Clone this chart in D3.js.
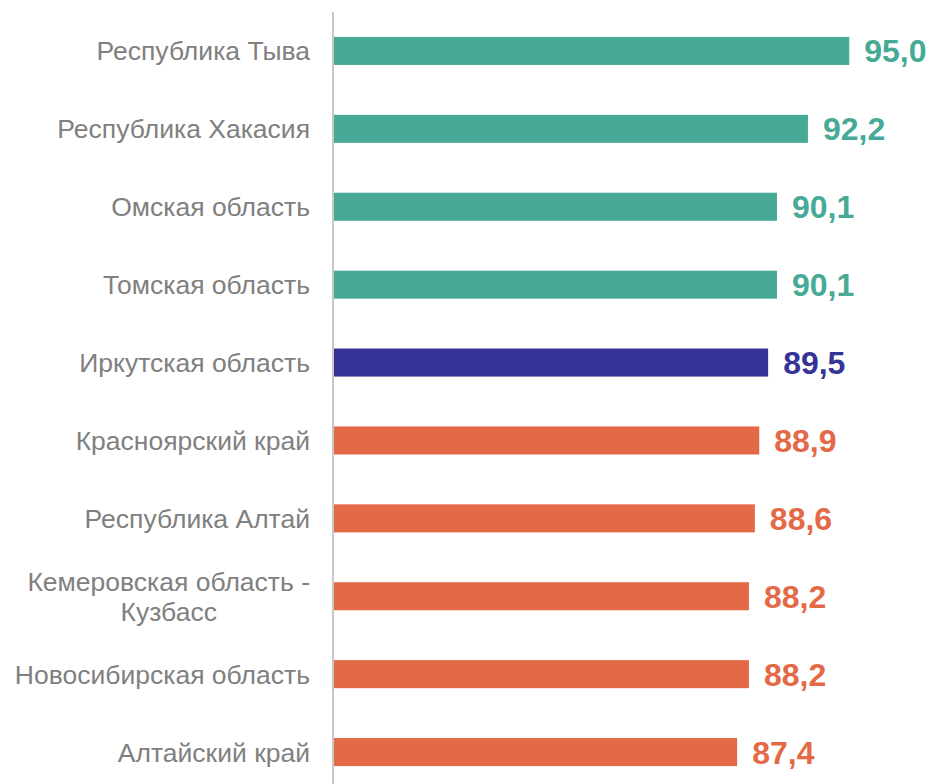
<!DOCTYPE html>
<html>
<head>
<meta charset="utf-8">
<script src="https://cdn.jsdelivr.net/npm/d3@7"></script>
<style>
  html, body { margin: 0; padding: 0; background: #fff; }
  svg { display: block; }
</style>
</head>
<body>
<svg id="chart" width="933" height="784"></svg>
<script>
const categories = [
  "Республика Тыва",
  "Республика Хакасия",
  "Омская область",
  "Томская область",
  "Иркутская область",
  "Красноярский край",
  "Республика Алтай",
  "Кемеровская область -\nКузбасс",
  "Новосибирская область",
  "Алтайский край"
];
const values = [95.0, 92.2, 90.1, 90.1, 89.5, 88.9, 88.6, 88.2, 88.2, 87.4];
const groups = ["above", "above", "above", "above", "self", "below", "below", "below", "below", "below"];
const groupColors = { above: "#46AA96", self: "#363397", below: "#E36947" };

const svg = d3.select("#chart");
const x = d3.scaleLinear().domain([60, 100]).range([333, 923]);
const y = d3.scaleBand().domain(categories).range([12, 791]).paddingInner(0.64).paddingOuter(0.32);

const fmt = v => v.toFixed(1).replace(".", ",");
const data = categories.map((c, i) => ({ c, v: values[i], g: groups[i] }));

// bars
svg.selectAll("rect.bar").data(data).join("rect")
  .attr("class", "bar")
  .attr("x", x(60))
  .attr("y", d => y(d.c))
  .attr("width", d => x(d.v) - x(60))
  .attr("height", y.bandwidth())
  .attr("fill", d => groupColors[d.g]);

// axis line
svg.append("line")
  .attr("x1", x(60)).attr("x2", x(60))
  .attr("y1", 12).attr("y2", 784)
  .attr("stroke", "#C8C8C8").attr("stroke-width", 2);

// value labels
svg.selectAll("text.val").data(data).join("text")
  .attr("class", "val")
  .attr("x", d => x(d.v) + 15)
  .attr("y", d => y(d.c) + y.bandwidth() / 2)
  .attr("dy", "0.36em")
  .attr("font-family", "Liberation Sans, Arial, sans-serif")
  .attr("font-weight", "bold")
  .attr("font-size", 32)
  .attr("fill", d => groupColors[d.g])
  .text(d => fmt(d.v));

// category labels
const labelRight = 310;
const lineH = 30;
const lab = svg.selectAll("g.lab").data(data).join("g").attr("class", "lab");
lab.each(function(d) {
  const g = d3.select(this);
  const lines = d.c.split("\n");
  const cy = y(d.c) + y.bandwidth() / 2;
  const t = g.append("text")
    .attr("font-family", "Liberation Sans, Arial, sans-serif")
    .attr("font-size", 26.5)
    .attr("fill", "#808080");
  if (lines.length === 1) {
    t.attr("x", labelRight).attr("y", cy).attr("dy", "0.36em")
      .attr("text-anchor", "end").text(lines[0]);
  } else {
    const tmp = t.append("tspan").text(lines[0]);
    const w = Math.max(...lines.map(l => { tmp.text(l); return tmp.node().getComputedTextLength(); }));
    tmp.remove();
    const cx = labelRight - w / 2;
    t.attr("text-anchor", "middle");
    lines.forEach((l, i) => {
      t.append("tspan").attr("x", cx)
        .attr("y", cy + (i - (lines.length - 1) / 2) * lineH)
        .attr("dy", "0.36em").text(l);
    });
  }
});
</script>
</body>
</html>
